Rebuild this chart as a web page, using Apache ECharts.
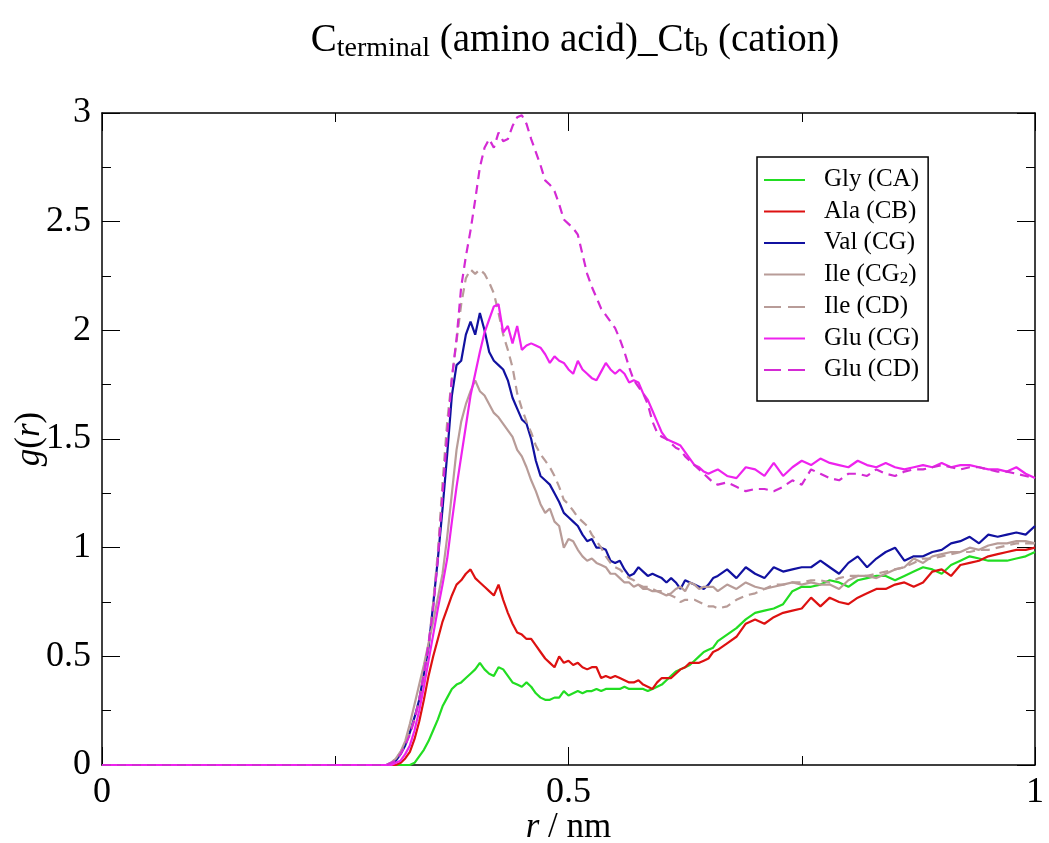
<!DOCTYPE html>
<html>
<head>
<meta charset="utf-8">
<script src="https://cdn.jsdelivr.net/npm/echarts@6/dist/echarts.min.js"></script>
<style>
html,body{margin:0;padding:0;background:#fff;}
#chart{width:1049px;height:843px;}
</style>
</head>
<body>
<div id="chart"></div>
<script>
// r / nm grid
var R = [0,
0.300,0.305,0.310,0.315,0.320,0.325,0.330,0.335,0.340,0.345,
0.350,0.355,0.360,0.365,0.370,0.375,0.380,0.385,0.390,0.395,
0.400,0.405,0.410,0.415,0.420,0.425,0.430,0.435,0.440,0.445,
0.450,0.455,0.460,0.465,0.470,0.475,0.480,0.485,0.490,0.495,
0.500,0.505,0.510,0.515,0.520,0.525,0.530,0.535,0.540,0.545,
0.550,0.555,0.560,0.565,0.570,0.575,0.580,0.585,0.590,0.595,
0.600,0.605,0.610,0.615,0.620,0.625,0.630,0.635,0.640,0.645,
0.650,0.655,0.660,
0.67,0.68,0.69,0.70,0.71,0.72,0.73,0.74,0.75,0.76,
0.77,0.78,0.79,0.80,0.81,0.82,0.83,0.84,0.85,0.86,
0.87,0.88,0.89,0.90,0.91,0.92,0.93,0.94,0.95,0.96,
0.97,0.98,0.99,1.00];

var glyCA = [0,
0,0,0,0,0,0,0,0.01,0.04,0.07,
0.11,0.16,0.21,0.27,0.31,0.35,0.37,0.38,0.40,0.42,
0.44,0.47,0.44,0.42,0.41,0.45,0.44,0.41,0.38,0.37,
0.36,0.38,0.36,0.33,0.31,0.30,0.30,0.31,0.31,0.34,
0.32,0.33,0.34,0.33,0.34,0.34,0.35,0.34,0.35,0.35,
0.35,0.35,0.36,0.35,0.35,0.35,0.35,0.34,0.35,0.36,
0.37,0.39,0.41,0.43,0.44,0.45,0.46,0.48,0.50,0.52,
0.53,0.54,0.57,
0.60,0.63,0.67,0.70,0.71,0.72,0.74,0.80,0.82,0.82,
0.83,0.85,0.84,0.82,0.85,0.86,0.87,0.87,0.85,0.87,
0.89,0.91,0.90,0.88,0.92,0.94,0.96,0.95,0.94,0.94,
0.94,0.95,0.96,0.98];

var alaCB = [0,
0,0,0,0,0.01,0.03,0.06,0.12,0.20,0.30,
0.41,0.50,0.58,0.66,0.72,0.78,0.83,0.85,0.88,0.90,
0.86,0.84,0.82,0.80,0.78,0.83,0.76,0.70,0.65,0.61,
0.60,0.58,0.58,0.55,0.52,0.49,0.47,0.45,0.50,0.47,
0.48,0.46,0.47,0.45,0.44,0.45,0.45,0.40,0.41,0.40,
0.41,0.40,0.39,0.38,0.38,0.39,0.37,0.36,0.35,0.38,
0.40,0.40,0.40,0.42,0.44,0.45,0.47,0.47,0.47,0.48,
0.49,0.52,0.53,
0.56,0.59,0.65,0.67,0.65,0.68,0.70,0.71,0.72,0.77,
0.73,0.77,0.75,0.74,0.77,0.79,0.81,0.81,0.83,0.84,
0.82,0.84,0.89,0.90,0.87,0.92,0.93,0.94,0.96,0.97,
0.98,0.99,0.99,1.00];

var valCG = [0,
0,0,0.01,0.02,0.05,0.09,0.15,0.22,0.30,0.42,
0.54,0.74,0.95,1.18,1.43,1.70,1.84,1.86,1.98,2.04,
1.98,2.08,2.00,1.90,1.86,1.84,1.82,1.77,1.69,1.64,
1.59,1.57,1.50,1.40,1.33,1.31,1.29,1.25,1.21,1.16,
1.14,1.12,1.10,1.06,1.03,1.04,1.00,1.00,0.99,0.94,
0.93,0.94,0.90,0.87,0.88,0.91,0.89,0.87,0.88,0.87,
0.86,0.84,0.86,0.84,0.81,0.85,0.84,0.83,0.82,0.81,
0.83,0.86,0.87,
0.90,0.86,0.91,0.88,0.86,0.91,0.89,0.90,0.91,0.91,
0.94,0.91,0.88,0.93,0.96,0.91,0.95,0.98,1.00,0.94,
0.96,0.96,0.98,0.99,1.02,1.03,1.05,1.02,1.06,1.05,
1.06,1.07,1.06,1.10];

var ileCG2 = [0,
0,0,0.01,0.03,0.06,0.11,0.19,0.28,0.37,0.46,
0.56,0.66,0.77,0.88,1.05,1.25,1.45,1.58,1.66,1.72,
1.77,1.72,1.70,1.66,1.62,1.60,1.57,1.54,1.51,1.45,
1.42,1.37,1.31,1.26,1.20,1.16,1.18,1.12,1.10,1.00,
1.04,1.03,0.99,0.96,0.94,0.95,0.93,0.92,0.91,0.88,
0.88,0.86,0.84,0.84,0.82,0.83,0.81,0.81,0.80,0.80,
0.79,0.78,0.79,0.81,0.82,0.80,0.84,0.83,0.81,0.82,
0.82,0.82,0.80,
0.83,0.81,0.84,0.82,0.81,0.82,0.83,0.84,0.83,0.84,
0.83,0.83,0.81,0.85,0.87,0.87,0.86,0.88,0.90,0.91,
0.95,0.93,0.96,0.97,0.98,0.98,1.00,0.99,1.01,1.02,
1.02,1.03,1.03,1.02];

var ileCD = [0,
0,0,0.01,0.03,0.06,0.10,0.15,0.21,0.30,0.42,
0.55,0.75,0.98,1.30,1.58,1.78,1.95,2.12,2.24,2.28,
2.26,2.28,2.26,2.22,2.17,2.08,1.98,1.91,1.83,1.71,
1.64,1.58,1.53,1.47,1.43,1.40,1.37,1.33,1.28,1.22,
1.20,1.17,1.14,1.12,1.10,1.06,1.03,1.00,0.96,0.93,
0.91,0.90,0.88,0.86,0.85,0.83,0.82,0.82,0.81,0.80,
0.80,0.79,0.78,0.77,0.75,0.76,0.76,0.76,0.75,0.74,
0.73,0.73,0.72,
0.73,0.76,0.78,0.79,0.81,0.83,0.83,0.84,0.84,0.85,
0.85,0.84,0.86,0.87,0.87,0.87,0.88,0.89,0.90,0.91,
0.93,0.95,0.95,0.96,0.97,0.98,0.98,0.99,0.99,1.00,
1.01,1.02,1.02,1.02];

var gluCG = [0,
0,0,0,0.01,0.02,0.05,0.09,0.16,0.25,0.36,
0.48,0.60,0.72,0.83,0.95,1.12,1.28,1.42,1.56,1.70,
1.80,1.90,1.99,2.05,2.11,2.12,1.99,2.02,1.94,2.02,
1.91,1.93,1.94,1.93,1.92,1.89,1.85,1.88,1.86,1.85,
1.82,1.80,1.86,1.82,1.80,1.78,1.77,1.81,1.85,1.82,
1.80,1.82,1.80,1.76,1.77,1.76,1.71,1.68,1.63,1.58,
1.53,1.50,1.49,1.48,1.47,1.44,1.41,1.38,1.37,1.35,
1.34,1.35,1.36,
1.33,1.32,1.37,1.36,1.33,1.39,1.33,1.37,1.40,1.38,
1.41,1.39,1.38,1.37,1.40,1.38,1.37,1.39,1.37,1.36,
1.37,1.38,1.37,1.39,1.37,1.38,1.38,1.37,1.36,1.36,
1.35,1.37,1.34,1.32];

var gluCD = [0,
0,0,0.01,0.02,0.05,0.09,0.14,0.21,0.30,0.42,
0.56,0.72,0.95,1.25,1.52,1.78,1.96,2.20,2.34,2.46,
2.60,2.75,2.84,2.88,2.84,2.91,2.87,2.88,2.94,2.98,
2.99,2.95,2.88,2.82,2.76,2.69,2.67,2.64,2.58,2.51,
2.49,2.47,2.44,2.35,2.26,2.20,2.15,2.10,2.07,2.04,
2.01,1.96,1.90,1.83,1.77,1.74,1.71,1.66,1.58,1.53,
1.51,1.50,1.48,1.46,1.45,1.42,1.40,1.38,1.36,1.34,
1.32,1.30,1.29,
1.30,1.28,1.26,1.27,1.27,1.26,1.28,1.31,1.29,1.36,
1.34,1.32,1.31,1.34,1.34,1.33,1.36,1.34,1.33,1.35,
1.36,1.36,1.37,1.38,1.37,1.36,1.37,1.37,1.36,1.35,
1.35,1.34,1.33,1.32];

var seriesNames = ['Gly (CA)','Ala (CB)','Val (CG)','Ile (CG2)','Ile (CD)','Glu (CG)','Glu (CD)'];
var seriesValues = [glyCA, alaCB, valCG, ileCG2, ileCD, gluCG, gluCD];
var seriesColors = ['#22dd22','#dd1111','#1111a0','#b89c98','#b89c98','#ee22ee','#d42ad4'];
var seriesDash = ['solid','solid','solid','solid',[9,6],'solid',[9,6]];

var xTicks = [0, 0.5, 1];
var yTicks = [0, 0.5, 1, 1.5, 2, 2.5, 3];

var SERIF = "'Liberation Serif','DejaVu Serif',serif";
var ICON_SOLID = 'path://M0,0H41V2H0Z';
var ICON_DASH = 'path://M0,0H17V2H0Z M24,0H41V2H24Z';

function pairs(vals){
  var out = [];
  for (var i=0;i<R.length;i++) out.push([R[i], vals[i]]);
  return out;
}

var series = seriesNames.map(function(n, i){
  return {
    name: n, type: 'line', data: pairs(seriesValues[i]),
    showSymbol: false, symbol: 'none', xAxisIndex: 0, yAxisIndex: 0,
    lineStyle: {color: seriesColors[i], width: 2.2, type: seriesDash[i]},
    itemStyle: {color: seriesColors[i]},
    z: 2 + i, animation: false
  };
});

var legendData = seriesNames.map(function(n, i){
  return {name: n, icon: (seriesDash[i] === 'solid' ? ICON_SOLID : ICON_DASH),
          itemStyle: {color: seriesColors[i], borderWidth: 0}};
});

function axisCommon(extra){
  var base = {
    axisLine: {show: true, onZero: false, lineStyle: {color: '#000', width: 1.5}},
    axisTick: {show: true, inside: true, length: 18, lineStyle: {color: '#000', width: 1}},
    minorTick: {show: true, splitNumber: 2, length: 9, lineStyle: {color: '#000', width: 1}},
    splitLine: {show: false},
    minorSplitLine: {show: false}
  };
  for (var k in extra) base[k] = extra[k];
  return base;
}

var option = {
  backgroundColor: '#fff',
  animation: false,
  title: {
    text: '{m|C}{s|terminal}{m| (amino acid)_Ct}{s|b}{m| (cation)}',
    left: 570, top: 16, textAlign: 'center',
    textStyle: {
      fontWeight: 'normal',
      rich: {
        m: {fontFamily: SERIF, fontSize: 39, fontWeight: 'normal', color: '#000', lineHeight: 44, verticalAlign: 'top'},
        s: {fontFamily: SERIF, fontSize: 28, fontWeight: 'normal', color: '#000', lineHeight: 44, verticalAlign: 'top', padding: [14,0,0,0]}
      }
    }
  },
  grid: {left: 102, right: 14, top: 113, bottom: 78, containLabel: false, outerBoundsMode: 'none'},
  legend: {
    data: legendData, orient: 'vertical', left: 757, top: 157,
    itemWidth: 41, itemHeight: 2.5, itemGap: 6.5,
    backgroundColor: '#fff', borderColor: '#000', borderWidth: 1.5,
    padding: [10, 9, 19, 7],
    formatter: function(name){
      if (name === 'Ile (CG2)') return '{n|Ile (CG}{s|2}{n|)}';
      return '{n|' + name + '}';
    },
    textStyle: {
      padding: [0,0,0,14],
      rich: {
        n: {fontFamily: SERIF, fontSize: 25, color: '#000', lineHeight: 26, verticalAlign: 'top'},
        s: {fontFamily: SERIF, fontSize: 17, color: '#000', lineHeight: 26, verticalAlign: 'top', padding: [9,0,0,0]}
      }
    }
  },
  xAxis: [
    axisCommon({
      type: 'value', min: 0, max: 1, interval: 0.5, position: 'bottom',
      axisLabel: {show: true, margin: 10, fontFamily: SERIF, fontSize: 36, color: '#000',
        formatter: function(v){ return xTicks.indexOf(v) >= 0 ? String(v) : ''; }},
      name: '{i|r}{n| / nm}', nameLocation: 'middle', nameGap: 45, nameMoveOverlap: false,
      nameTextStyle: {rich: {
        i: {fontFamily: SERIF, fontSize: 35, fontStyle: 'italic', color: '#000'},
        n: {fontFamily: SERIF, fontSize: 35, color: '#000'}
      }}
    }),
    axisCommon({type: 'value', min: 0, max: 1, interval: 0.5, position: 'top', axisLabel: {show: false}})
  ],
  yAxis: [
    axisCommon({
      type: 'value', min: 0, max: 3, interval: 0.5, position: 'left',
      axisLabel: {show: true, margin: 11, fontFamily: SERIF, fontSize: 36, color: '#000',
        formatter: function(v){ return yTicks.indexOf(v) >= 0 ? String(v) : ''; }},
      name: '{i|g}{n|(}{i|r}{n|)}', nameLocation: 'middle', nameGap: 55, nameRotate: 90, nameMoveOverlap: false,
      nameTextStyle: {rich: {
        i: {fontFamily: SERIF, fontSize: 35, fontStyle: 'italic', color: '#000'},
        n: {fontFamily: SERIF, fontSize: 35, color: '#000'}
      }}
    }),
    axisCommon({type: 'value', min: 0, max: 3, interval: 0.5, position: 'right', axisLabel: {show: false}})
  ],
  series: series
};

var chart = echarts.init(document.getElementById('chart'), null, {renderer: 'canvas'});
chart.setOption(option);
</script>
</body>
</html>
